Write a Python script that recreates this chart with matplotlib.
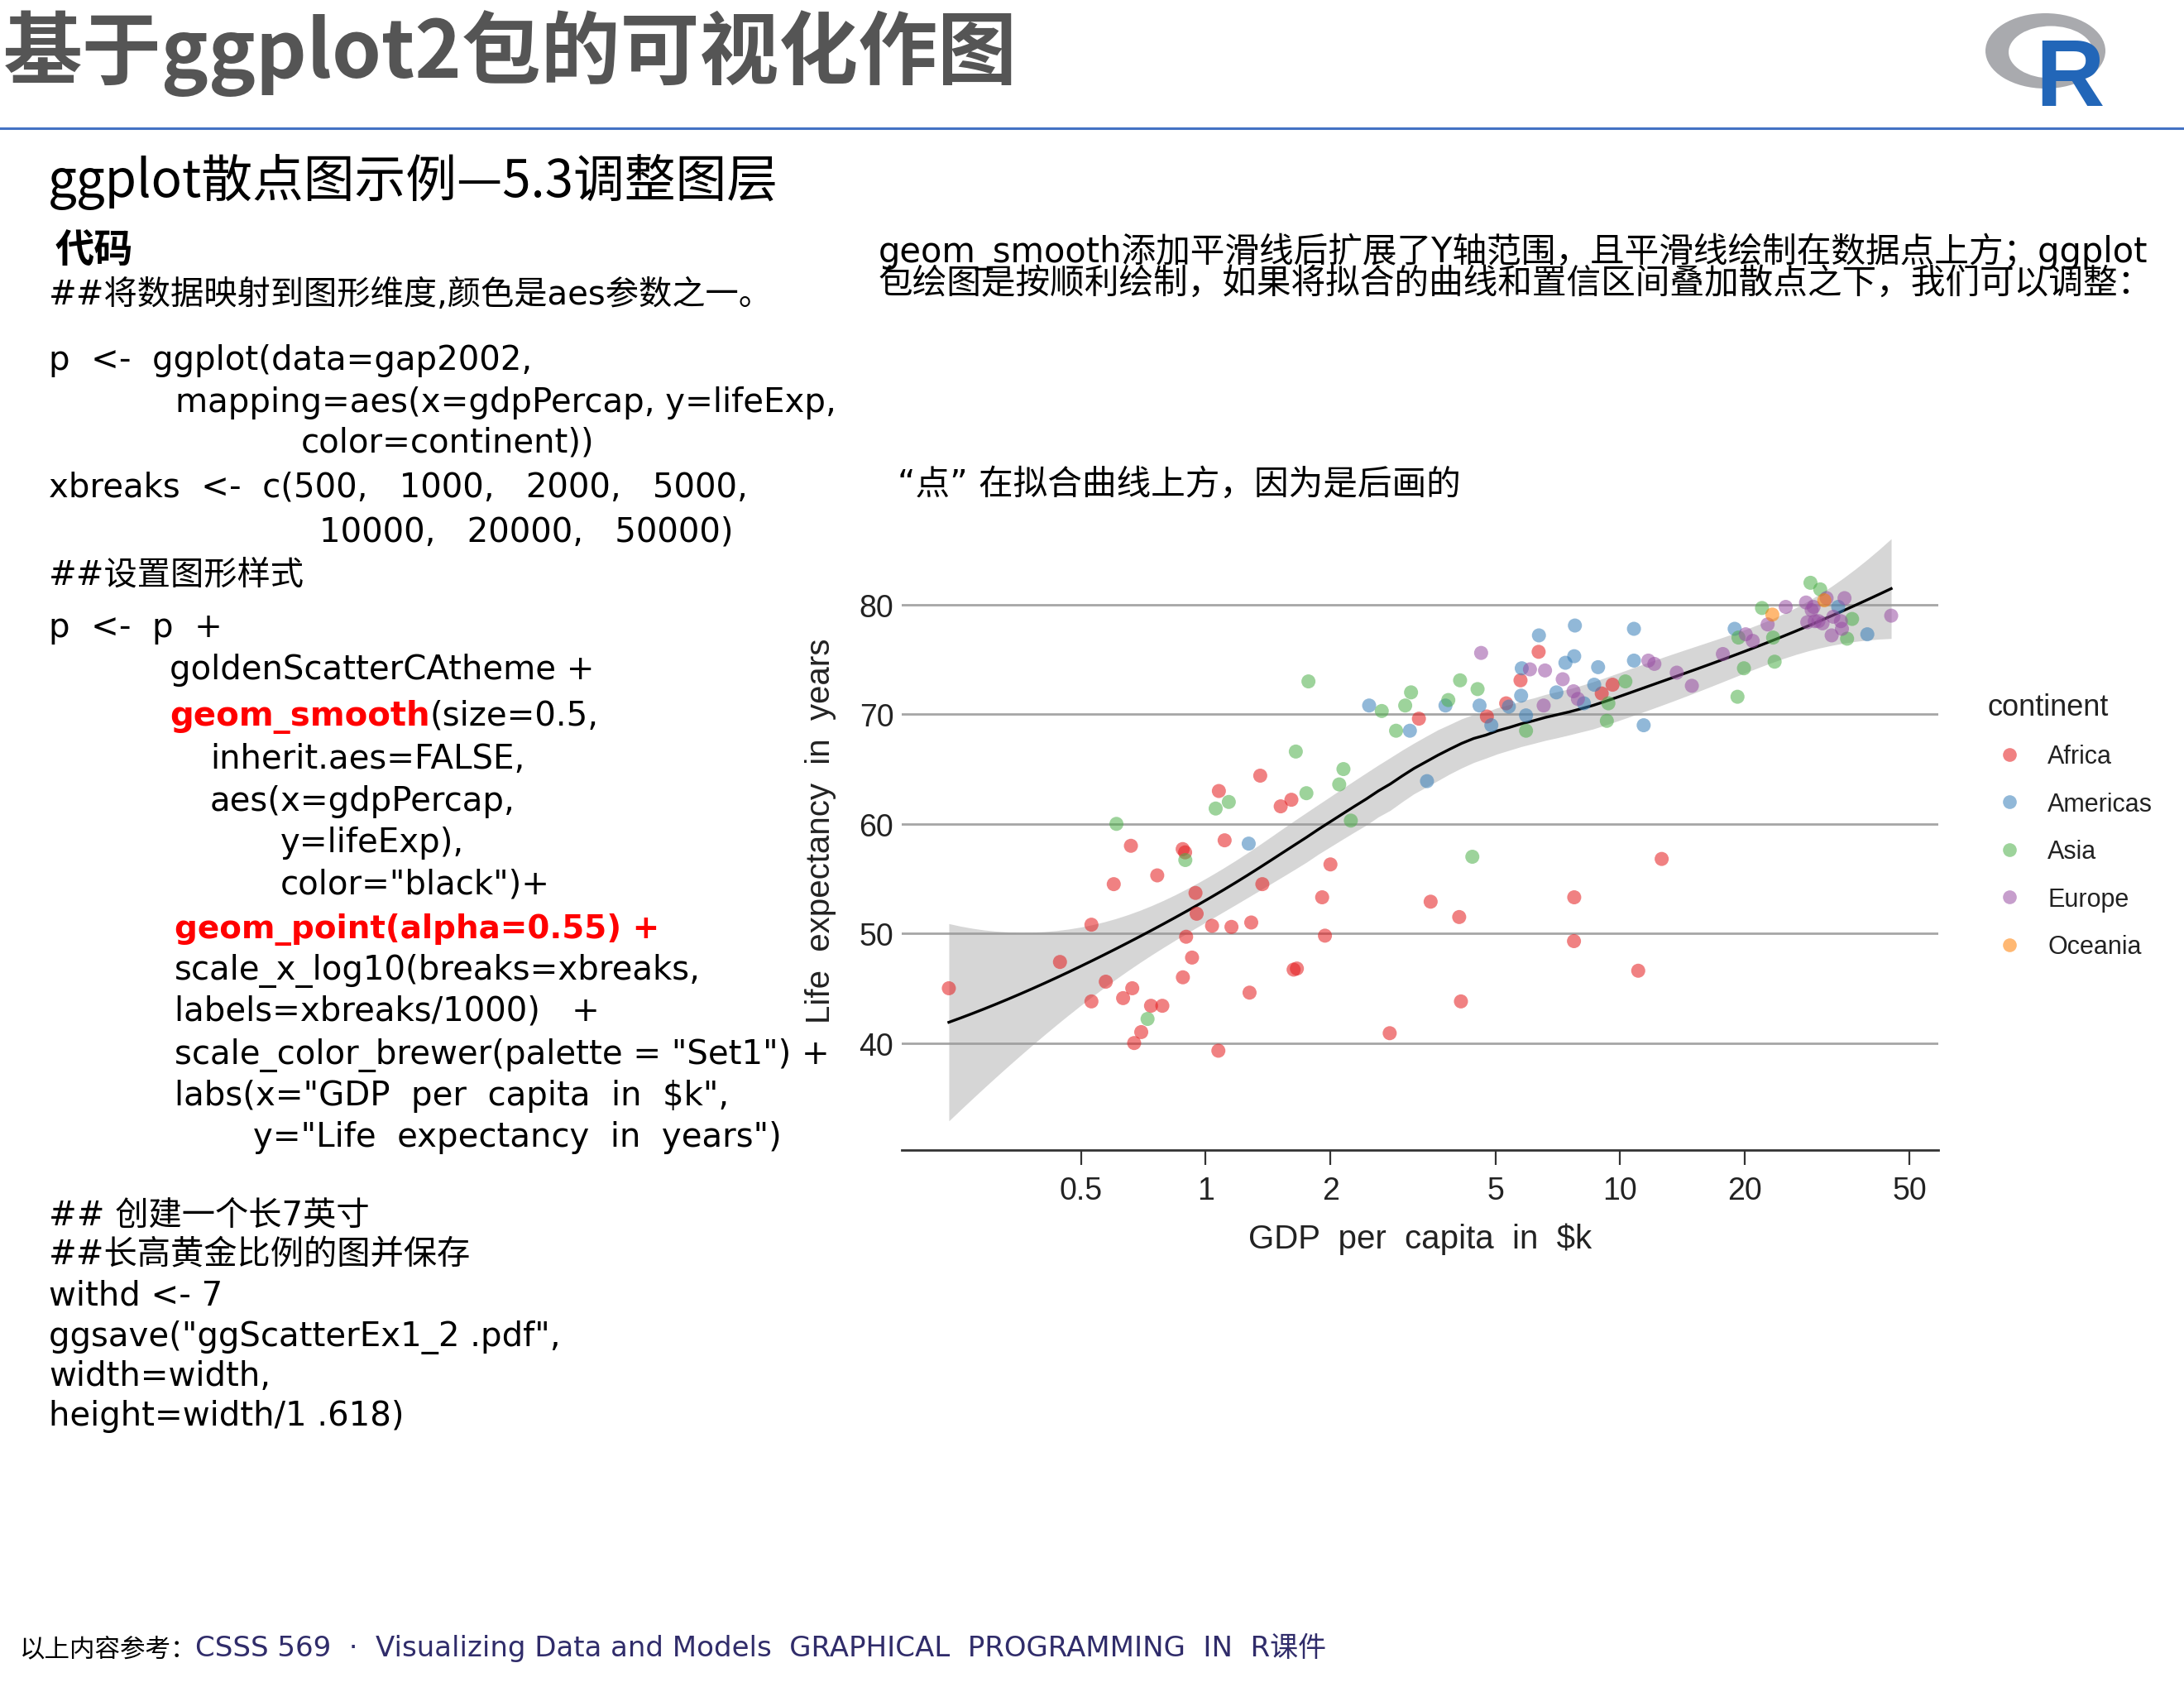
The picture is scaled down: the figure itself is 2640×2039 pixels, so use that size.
import numpy as np
import matplotlib
matplotlib.use("Agg")
import matplotlib.pyplot as plt
from matplotlib.lines import Line2D
from matplotlib.patches import Ellipse
from matplotlib.ticker import NullLocator

W, H = 2640, 2040
MIX = ["DejaVu Sans", "Noto Sans CJK SC"]
NOTO = ["Noto Sans CJK SC", "DejaVu Sans"]
ARIAL = ["Liberation Sans", "DejaVu Sans"]

# gapminder 2002 (gdp per capita in $, life expectancy in years)
africa_gdp = [240, 445, 530, 530, 574, 600, 660, 632, 665, 672,
              699, 738, 786, 764, 880, 892, 945, 951, 897, 927,
              881, 1036, 1154, 1288, 1276, 1370, 1073, 1111, 1076, 1354,
              1517, 1610, 2000, 1910, 1940, 1630, 1660, 2780, 3490, 4090,
              4130, 7750, 7740, 11060, 3270, 4770, 5310, 5750, 6360, 9030,
              9590, 12600]
africa_life = [45.0, 47.4, 50.8, 43.8, 45.6, 54.5, 58.0, 44.1, 45.0, 40.0,
               41.0, 43.4, 43.4, 55.3, 57.7, 57.4, 53.7, 51.8, 49.7, 47.8,
               46.0, 50.7, 50.6, 51.0, 44.6, 54.5, 39.3, 58.5, 63.0, 64.4,
               61.6, 62.2, 56.3, 53.3, 49.8, 46.7, 46.8, 40.9, 52.9, 51.5,
               43.8, 53.3, 49.3, 46.6, 69.6, 69.8, 71.0, 73.1, 75.7, 71.9,
               72.7, 56.8]
americas_gdp = [1270, 3420, 2480, 3110, 3790, 4580, 4890, 5390, 5770, 5790,
                5930, 6370, 7020, 7380, 7780, 7750, 8180, 8660, 8850, 10800,
                10800, 11400, 18900, 33600, 39500]
americas_life = [58.2, 63.9, 70.8, 68.5, 70.8, 70.8, 69.0, 70.7, 71.7, 74.2,
                 69.9, 77.2, 72.0, 74.7, 78.1, 75.3, 71.0, 72.7, 74.3, 77.8,
                 74.9, 69.0, 77.8, 79.8, 77.3]
asia_gdp = [609, 724, 893, 1057, 1137, 1650, 1770, 1750, 2100, 2150,
            2240, 4400, 2660, 2880, 3030, 3130, 3850, 4110, 4530, 5930,
            9370, 9290, 10300, 19200, 19900, 19300, 23400, 23600, 22000, 28800,
            30400, 36300, 35300]
asia_life = [60.0, 42.2, 56.7, 61.4, 62.0, 66.6, 73.0, 62.8, 63.6, 65.0,
             60.3, 57.0, 70.3, 68.5, 70.8, 72.0, 71.3, 73.1, 72.3, 68.5,
             71.0, 69.4, 73.0, 71.6, 74.2, 77.0, 77.0, 74.8, 79.7, 82.0,
             81.4, 78.7, 76.9]
europe_gdp = [4620, 6060, 6590, 6540, 7270, 7720, 7910, 11700, 12100, 13700,
              14900, 17700, 20100, 20900, 22700, 25100, 28100, 29300, 29000, 31500,
              34800, 28300, 30100, 30800, 32700, 34100, 34300, 32400, 45100, 29500]
europe_life = [75.6, 74.1, 74.0, 70.8, 73.2, 72.1, 71.4, 74.9, 74.6, 73.8,
               72.6, 75.5, 77.3, 76.7, 78.2, 79.8, 80.2, 79.8, 79.5, 80.6,
               80.6, 78.4, 78.5, 78.3, 78.9, 78.5, 77.8, 77.2, 79.0, 78.5]
oceania_gdp = [23300, 31100]
oceania_life = [79.1, 80.4]

continents = ["Africa", "Americas", "Asia", "Europe", "Oceania"]
set1 = ["#E41A1C", "#377EB8", "#4DAF4A", "#984EA3", "#FF7F00"]
xbreaks = [500, 1000, 2000, 5000, 10000, 20000, 50000]
ybreaks = [40, 50, 60, 70, 80]

gdp_by = [africa_gdp, americas_gdp, asia_gdp, europe_gdp, oceania_gdp]
life_by = [africa_life, americas_life, asia_life, europe_life, oceania_life]


def loess_band(lx, ly, grid, span=0.75):
    # local quadratic loess with tricube weights (R defaults), 95% band
    n = len(lx)
    q = int(np.floor(n * span))

    def op(x0):
        d = np.abs(lx - x0)
        h = np.sort(d)[q - 1]
        w = np.clip(1 - (d / h) ** 3, 0, None) ** 3
        X = np.column_stack([np.ones(n), lx - x0, (lx - x0) ** 2])
        XtW = X.T * w
        return np.linalg.solve(XtW @ X, XtW)[0]

    L = np.array([op(v) for v in lx])
    res = ly - L @ ly
    M = np.eye(n) - L
    MM = M.T @ M
    d1 = np.trace(MM)
    d2 = np.trace(MM @ MM)
    s = np.sqrt(res @ res / d1)
    df = d1 ** 2 / d2
    z = 1.959964
    tq = z + (z ** 3 + z) / (4 * df) + (5 * z ** 5 + 16 * z ** 3 + 3 * z) / (96 * df ** 2)
    G = np.array([op(v) for v in grid])
    fit = G @ ly
    se = s * np.sqrt((G ** 2).sum(axis=1))
    return fit, fit - tq * se, fit + tq * se


fig = plt.figure(figsize=(W / 100, H / 100), dpi=100)
fig.patch.set_facecolor("white")
renderer = fig.canvas.get_renderer()


def put(x, y, s, size, family=MIX, color="black", weight="normal", **kw):
    return fig.text(x / W, 1 - y / H, s, fontsize=size, family=family,
                    color=color, fontweight=weight, va="baseline", ha="left", **kw)


def put_runs(x, y, runs, size, family=MIX):
    for s, color, weight, *rest in runs:
        t = put(x, y, s, rest[0] if rest else size, family=family, color=color, weight=weight)
        x += t.get_window_extent(renderer).width


# ---- slide header ----
put(4, 94, "基于ggplot2包的可视化作图", 69, family=NOTO, color="#555555", weight="bold")
fig.add_artist(Line2D([0, 1], [1 - 155.5 / H] * 2, transform=fig.transFigure,
                      color="#4472C4", lw=2.2))
put(58, 238, "ggplot散点图示例—5.3调整图层", 44.5, family=NOTO)

# R logo
lax = fig.add_axes([2390 / W, 1 - 135 / H, 165 / W, 125 / H])
lax.set_xlim(0, 165)
lax.set_ylim(0, 125)
lax.axis("off")
lax.add_patch(Ellipse((82.5, 72.5), 145, 91, color="#A9AAAE", lw=0))
lax.add_patch(Ellipse((89, 71), 102, 63, color="white", lw=0))
lax.text(70, 7, "R", fontsize=83, family=["Liberation Sans"], fontweight="bold",
         color="#2266B8", va="baseline", ha="left")

# ---- code column ----
put(67, 318, "代码", 34, family=NOTO, weight="bold")
put(59, 368, "##将数据映射到图形维度,颜色是aes参数之一。", 29)

RED = "#FF0000"
code_lines = [
    (59, 447, [("p  <-  ggplot(data=gap2002,", "black", "normal")]),
    (212, 498, [("mapping=aes(x=gdpPercap, y=lifeExp,", "black", "normal")]),
    (364, 547, [("color=continent))", "black", "normal")]),
    (59, 600, [("xbreaks  <-  c(500,   1000,   2000,   5000,", "black", "normal")]),
    (386, 655, [("10000,   20000,   50000)", "black", "normal")]),
    (59, 707, [("##设置图形样式", "black", "normal")]),
    (59, 770, [("p  <-  p  +", "black", "normal")]),
    (205, 821, [("goldenScatterCAtheme +", "black", "normal")]),
    (205, 877, [("geom_smooth", RED, "bold"), ("(size=0.5,", "black", "normal")]),
    (254, 929, [("inherit.aes=FALSE,", "black", "normal")]),
    (254, 980, [("aes(x=gdpPercap,", "black", "normal")]),
    (339, 1030, [("y=lifeExp),", "black", "normal")]),
    (339, 1081, [("color=\"black\")+", "black", "normal")]),
    (211, 1134, [("geom_point(alpha=0.55) +", RED, "bold", 28)]),
    (211, 1184, [("scale_x_log10(breaks=xbreaks,", "black", "normal")]),
    (211, 1234, [("labels=xbreaks/1000)   +", "black", "normal")]),
    (211, 1286, [("scale_color_brewer(palette = \"Set1\") +", "black", "normal")]),
    (211, 1336, [("labs(x=\"GDP  per  capita  in  $k\",", "black", "normal")]),
    (306, 1386, [("y=\"Life  expectancy  in  years\")", "black", "normal")]),
    (59, 1481, [("## 创建一个长7英寸", "black", "normal")]),
    (59, 1528, [("##长高黄金比例的图并保存", "black", "normal")]),
    (59, 1578, [("withd <- 7", "black", "normal")]),
    (59, 1627, [("ggsave(\"ggScatterEx1_2 .pdf\",", "black", "normal")]),
    (59, 1675, [("width=width,", "black", "normal")]),
    (59, 1723, [("height=width/1 .618)", "black", "normal")]),
]
for x, y, runs in code_lines:
    put_runs(x, y, runs, 29)

# ---- notes on the right ----
put(1062, 317, "geom_smooth添加平滑线后扩展了Y轴范围，且平滑线绘制在数据点上方；ggplot", 30)
put(1062, 355, "包绘图是按顺利绘制，如果将拟合的曲线和置信区间叠加散点之下，我们可以调整：", 30)
put(1085, 598, "“点” 在拟合曲线上方，因为是后画的", 30)

# ---- footer ----
put(24, 2002, "以上内容参考：", 22, family=NOTO)
put(236, 2002, "CSSS 569  ·  Visualizing Data and Models  GRAPHICAL  PROGRAMMING  IN  R课件",
    24.5, color="#302C6A")

# ---- scatter chart ----
ax = fig.add_axes([1090 / W, 1 - 1391 / H, (2343 - 1090) / W, (1391 - 617) / H])

all_gdp = np.concatenate([np.asarray(g, float) for g in gdp_by])
all_life = np.concatenate([np.asarray(l, float) for l in life_by])
all_col = sum([[c] * len(g) for c, g in zip(set1, gdp_by)], [])

lx = np.log10(all_gdp)
grid = np.linspace(lx.min(), lx.max(), 80)
fit, lo, hi = loess_band(lx, all_life, grid)

ax.set_xscale("log")
ax.fill_between(10 ** grid, lo, hi, color="#999999", alpha=0.4, lw=0, zorder=2)
ax.plot(10 ** grid, fit, color="black", lw=2.4, zorder=3)
ax.scatter(all_gdp, all_life, s=150, c=all_col, alpha=0.55, lw=0, zorder=4)
ax.margins(x=0.05, y=0.05)

ax.set_xticks(xbreaks)
ax.set_xticklabels([f"{b / 1000:g}" for b in xbreaks])
ax.xaxis.set_minor_locator(NullLocator())
ax.set_yticks(ybreaks)
ax.grid(axis="y", color="#A6A6A6", lw=2.0)
ax.set_axisbelow(True)
for side in ["top", "right", "left"]:
    ax.spines[side].set_visible(False)
ax.spines["bottom"].set_color("#333333")
ax.spines["bottom"].set_linewidth(2.0)
ax.tick_params(axis="x", direction="out", length=13, width=1.6, color="#333333",
               pad=9, labelsize=27, labelcolor="#222222")
ax.tick_params(axis="y", length=0, pad=7, labelsize=27, labelcolor="#222222")
for lab in ax.get_xticklabels() + ax.get_yticklabels():
    lab.set_family(ARIAL)

ax.set_xlabel("GDP  per  capita  in  $k", fontsize=29, family=ARIAL, color="#222222", labelpad=15)
ax.set_ylabel("Life  expectancy  in  years", fontsize=29, family=ARIAL, color="#222222", labelpad=20)

handles = [Line2D([], [], ls="none", marker="o", ms=12, mfc=c, mec="none", alpha=0.55)
           for c in set1]
leg = ax.legend(handles, continents, title="continent", loc="upper left",
                bbox_to_anchor=(2402 / W, 1 - 838 / H), bbox_transform=fig.transFigure,
                frameon=False, borderpad=0, borderaxespad=0, handlelength=1.77,
                handletextpad=0.62, labelspacing=0.9, alignment="left",
                prop={"family": ARIAL, "size": 22},
                title_fontproperties={"family": ARIAL, "size": 26},
                labelcolor="#222222")
leg.get_title().set_color("#222222")

fig.savefig("out.png", dpi=100)
